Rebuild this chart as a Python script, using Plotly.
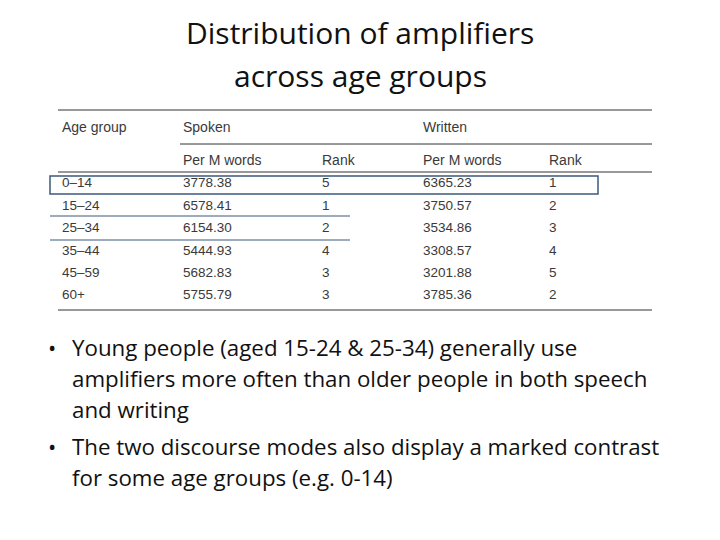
import plotly.graph_objects as go

age_groups = ["0–14", "15–24", "25–34", "35–44", "45–59", "60+"]
spoken_per_m = ["3778.38", "6578.41", "6154.30", "5444.93", "5682.83", "5755.79"]
spoken_rank = ["5", "1", "2", "4", "3", "3"]
written_per_m = ["6365.23", "3750.57", "3534.86", "3308.57", "3201.88", "3785.36"]
written_rank = ["1", "2", "3", "4", "5", "2"]

title_lines = ["Distribution of amplifiers", "across age groups"]
bullets = [
    ["Young people (aged 15-24 & 25-34) generally use",
     "amplifiers more often than older people in both speech",
     "and writing"],
    ["The two discourse modes also display a marked contrast",
     "for some age groups (e.g. 0-14)"],
]

col_x = [62, 183, 322, 423, 549]
row_y = [184, 207, 229, 252, 274, 296]
txt = "#3a3a3a"
font_t = "Liberation Sans"

fig = go.Figure()

# table body
columns = [age_groups, spoken_per_m, spoken_rank, written_per_m, written_rank]
for cx, vals in zip(col_x, columns):
    fig.add_trace(go.Scatter(x=[cx] * len(vals), y=row_y, text=vals, mode="text",
                             textposition="middle right", hoverinfo="skip",
                             textfont=dict(family=font_t, size=13.5, color=txt)))

# headers
heads = [(62, 128, "Age group"), (183, 128, "Spoken"), (423, 128, "Written"),
         (183, 161, "Per M words"), (322, 161, "Rank"), (423, 161, "Per M words"), (549, 161, "Rank")]
fig.add_trace(go.Scatter(x=[h[0] for h in heads], y=[h[1] for h in heads], text=[h[2] for h in heads],
                         mode="text", textposition="middle right", hoverinfo="skip",
                         textfont=dict(family=font_t, size=14, color=txt)))

shapes = []
for x0, y0 in [(58, 110), (180, 144), (58, 172), (58, 310)]:
    shapes.append(dict(type="line", x0=x0, x1=652, y0=y0, y1=y0, line=dict(color="#333", width=1)))
for y0 in [216, 240]:
    shapes.append(dict(type="line", x0=50, x1=350, y0=y0, y1=y0, line=dict(color="#3d5a7a", width=1.2)))
shapes.append(dict(type="rect", x0=50, x1=598, y0=176, y1=194, line=dict(color="#3d5a7a", width=1.5)))

ann = []
for i, t in enumerate(title_lines):
    ann.append(dict(x=360, y=32 + i * 43, text=t, showarrow=False, xanchor="center", yanchor="middle",
                    font=dict(family="Open Sans", size=30, color="#111")))
y = 347
for b in bullets:
    ann.append(dict(x=46, y=y, text="•", showarrow=False, xanchor="left", yanchor="middle",
                    font=dict(family="Open Sans", size=22, color="#111")))
    for line in b:
        ann.append(dict(x=70, y=y, text=line, showarrow=False, xanchor="left", yanchor="middle",
                        font=dict(family="Open Sans", size=22.3, color="#111")))
        y += 31
    y += 6

# page body has an 8px margin, so shift the ranges to keep pixel positions
fig.update_layout(width=720, height=540, margin=dict(l=0, r=0, t=0, b=0),
                  paper_bgcolor="white", plot_bgcolor="white", showlegend=False,
                  shapes=shapes, annotations=ann,
                  xaxis=dict(range=[8, 728], visible=False, fixedrange=True),
                  yaxis=dict(range=[548, 8], visible=False, fixedrange=True))
fig.write_html("out.html")
